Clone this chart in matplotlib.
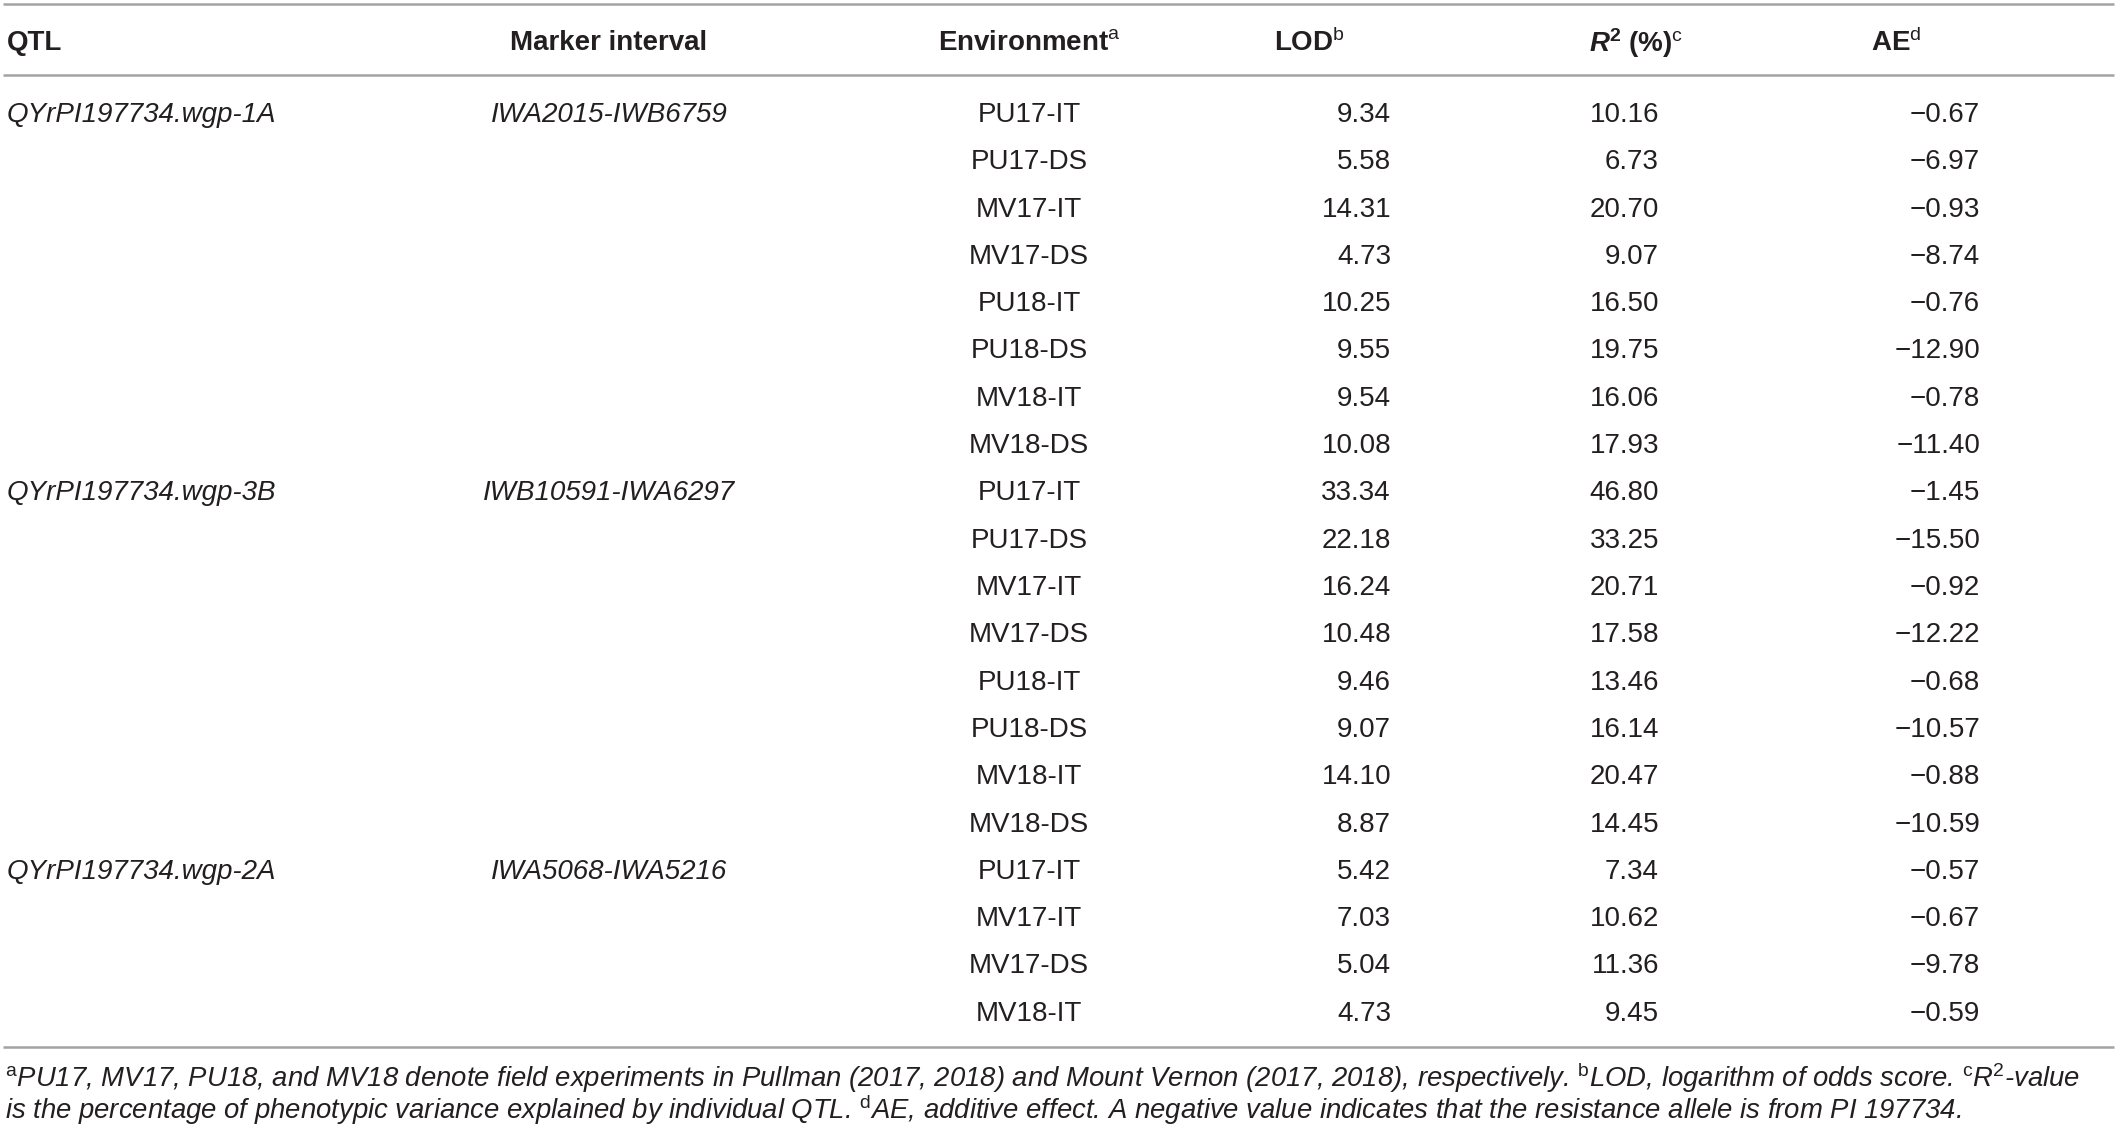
import matplotlib
matplotlib.use("Agg")
import matplotlib.pyplot as plt

plt.rcParams['font.family'] = ['Liberation Sans', 'DejaVu Sans']
plt.rcParams['mathtext.fontset'] = 'custom'
plt.rcParams['mathtext.rm'] = 'Liberation Sans'
plt.rcParams['mathtext.it'] = 'Liberation Sans:italic'
plt.rcParams['mathtext.bf'] = 'Liberation Sans:bold'
plt.rcParams['mathtext.bfit'] = 'Liberation Sans:italic:bold'

# ---- data ----
qtl_names = ["QYrPI197734.wgp-1A", "QYrPI197734.wgp-3B", "QYrPI197734.wgp-2A"]
marker_intervals = ["IWA2015-IWB6759", "IWB10591-IWA6297", "IWA5068-IWA5216"]
group_sizes = [8, 8, 4]
environments = ["PU17-IT", "PU17-DS", "MV17-IT", "MV17-DS", "PU18-IT", "PU18-DS", "MV18-IT", "MV18-DS",
                "PU17-IT", "PU17-DS", "MV17-IT", "MV17-DS", "PU18-IT", "PU18-DS", "MV18-IT", "MV18-DS",
                "PU17-IT", "MV17-IT", "MV17-DS", "MV18-IT"]
lod = [9.34, 5.58, 14.31, 4.73, 10.25, 9.55, 9.54, 10.08,
       33.34, 22.18, 16.24, 10.48, 9.46, 9.07, 14.10, 8.87,
       5.42, 7.03, 5.04, 4.73]
r2 = [10.16, 6.73, 20.70, 9.07, 16.50, 19.75, 16.06, 17.93,
      46.80, 33.25, 20.71, 17.58, 13.46, 16.14, 20.47, 14.45,
      7.34, 10.62, 11.36, 9.45]
ae = [-0.67, -6.97, -0.93, -8.74, -0.76, -12.90, -0.78, -11.40,
      -1.45, -15.50, -0.92, -12.22, -0.68, -10.57, -0.88, -10.59,
      -0.57, -0.67, -9.78, -0.59]
headers = ["QTL", "Marker interval", r"Environment$^{\mathrm{a}}$", r"LOD$^{\mathrm{b}}$",
           r"$\mathbfit{R}^{\mathbf{2}}$ (%)$^{\mathrm{c}}$", r"AE$^{\mathrm{d}}$"]
footnote1 = (r"$^{\mathrm{a}}$PU17, MV17, PU18, and MV18 denote field experiments in Pullman (2017, 2018) and "
             r"Mount Vernon (2017, 2018), respectively. $^{\mathrm{b}}$LOD, logarithm of odds score. "
             r"$^{\mathrm{c}}$R$^{\mathrm{2}}$-value")
footnote2 = (r"is the percentage of phenotypic variance explained by individual QTL. $^{\mathrm{d}}$AE, additive effect. "
             r"A negative value indicates that the resistance allele is from PI 197734.")

# ---- layout ----
W, H = 2118, 1139
fig = plt.figure(figsize=(W / 100, H / 100), dpi=100)
ax = fig.add_axes([0, 0, 1, 1])
ax.set_xlim(0, W)
ax.set_ylim(H, 0)
ax.axis('off')

txt = '#231f20'
line_c = '#a3a3a3'
fs = 20

for y in (4, 75, 1047):
    ax.plot([3, 2114], [y, y], color=line_c, lw=1.8, solid_capstyle='butt')

hy = 43
hx = [7, 609, 1029, 1274, 1589, 1871]
has = ['left', 'center', 'center', 'left', 'left', 'left']
for h, x, a in zip(headers, hx, has):
    ax.text(x, hy, h, ha=a, va='center', fontsize=fs, fontweight='bold', color=txt)

y0, step = 115, 47.3
row = 0
for q, m, n in zip(qtl_names, marker_intervals, group_sizes):
    y = y0 + row * step
    ax.text(7, y, q, ha='left', va='center', fontsize=fs, style='italic', color=txt)
    ax.text(609, y, m, ha='center', va='center', fontsize=fs, style='italic', color=txt)
    row += n

for i in range(len(environments)):
    y = y0 + i * step
    ax.text(1029, y, environments[i], ha='center', va='center', fontsize=fs, color=txt)
    ax.text(1391, y, f"{lod[i]:.2f}", ha='right', va='center', fontsize=fs, color=txt)
    ax.text(1659, y, f"{r2[i]:.2f}", ha='right', va='center', fontsize=fs, color=txt)
    ax.text(1980, y, f"{ae[i]:.2f}".replace('-', '\u2212'), ha='right', va='center', fontsize=fs, color=txt)

ax.text(5, 1078, footnote1, ha='left', va='center', fontsize=19.8, style='italic', color=txt)
ax.text(5, 1110, footnote2, ha='left', va='center', fontsize=19.8, style='italic', color=txt)

fig.savefig("out.png", dpi=100)
